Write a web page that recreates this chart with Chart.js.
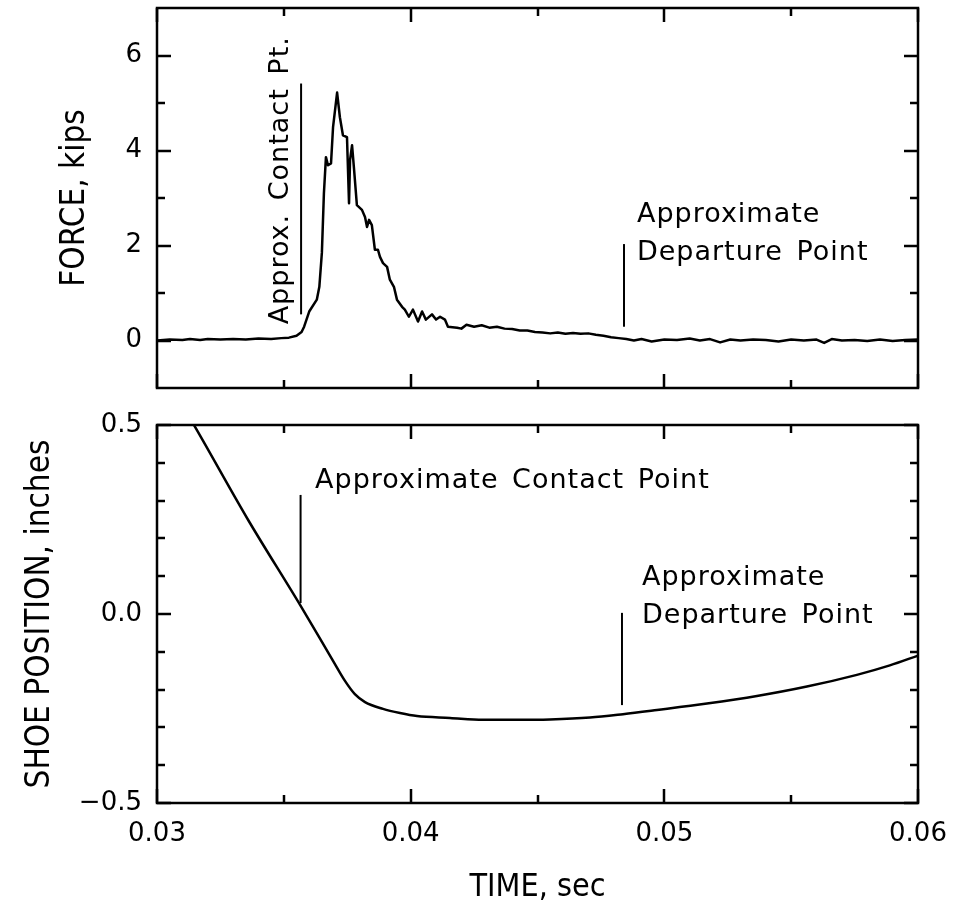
<!DOCTYPE html>
<html>
<head>
<meta charset="utf-8">
<title>Force and shoe position vs time</title>
<script src="https://cdn.jsdelivr.net/npm/chart.js@4.4.1/dist/chart.umd.min.js"></script>
<style>
  html, body { margin: 0; padding: 0; background: #fff; }
  #wrap { position: relative; width: 960px; height: 911px; }
  #forceChart { position: absolute; left: 0; top: 0; }
  #shoeChart { position: absolute; left: 0; top: 400px; }
</style>
</head>
<body>
<div id="wrap">
  <canvas id="forceChart" width="960" height="400"></canvas>
  <canvas id="shoeChart" width="960" height="511"></canvas>
</div>
<script>
// Time axis (sec)
const timeTicks = [0.03, 0.04, 0.05, 0.06];
const timeMinor = [0.035, 0.045, 0.055];

// Force record (kips)
const forceTime = [
  0.0300, 0.0305, 0.0310, 0.0313, 0.0317, 0.0320, 0.0325, 0.0330, 0.0335, 0.0340,
  0.0345, 0.0349, 0.0352, 0.0355, 0.0357, 0.0358, 0.0360, 0.0363, 0.0364, 0.0365,
  0.03658, 0.03666, 0.03674, 0.03686, 0.03694, 0.03710, 0.03721, 0.03733, 0.03749, 0.03757,
  0.03761, 0.03769, 0.03777, 0.03788, 0.03808, 0.03820, 0.03828, 0.03836, 0.03847, 0.03859,
  0.03871, 0.03879, 0.03891, 0.03907, 0.03918, 0.03934, 0.03946, 0.03966, 0.03977, 0.03993,
  0.04009, 0.04029, 0.04045, 0.04060, 0.04084, 0.04100, 0.04116, 0.04135, 0.04147, 0.04183,
  0.0420, 0.0422, 0.0425, 0.0428, 0.0431, 0.0434, 0.0437, 0.0440, 0.0443, 0.0446,
  0.0449, 0.0452, 0.0455, 0.0458, 0.0461, 0.0464, 0.0467, 0.0470, 0.0473, 0.0476,
  0.0479, 0.0482, 0.0485, 0.0488, 0.0491, 0.0495, 0.0500, 0.0505, 0.0510, 0.0514,
  0.0518, 0.0522, 0.0526, 0.0530, 0.0535, 0.0540, 0.0545, 0.0550, 0.0555, 0.0560,
  0.0563, 0.0566, 0.0570, 0.0575, 0.0580, 0.0585, 0.0590, 0.0595, 0.0600
];
const forceKips = [
  0.00, 0.02, 0.01, 0.03, 0.01, 0.03, 0.02, 0.03, 0.02, 0.04,
  0.03, 0.05, 0.06, 0.10, 0.18, 0.29, 0.61, 0.86, 1.13, 1.85,
  3.10, 3.86, 3.69, 3.73, 4.49, 5.22, 4.70, 4.32, 4.28, 2.89,
  3.80, 4.11, 3.59, 2.85, 2.75, 2.60, 2.39, 2.54, 2.43, 1.91,
  1.91, 1.76, 1.63, 1.55, 1.28, 1.13, 0.86, 0.71, 0.65, 0.50,
  0.65, 0.40, 0.61, 0.44, 0.55, 0.44, 0.50, 0.44, 0.29, 0.27,
  0.25, 0.33, 0.29, 0.32, 0.27, 0.29, 0.25, 0.24, 0.21, 0.21,
  0.18, 0.17, 0.15, 0.17, 0.14, 0.16, 0.14, 0.15, 0.12, 0.10,
  0.07, 0.05, 0.03, 0.00, 0.03, -0.02, 0.02, 0.01, 0.04, 0.00,
  0.03, -0.04, 0.02, 0.00, 0.02, 0.01, -0.02, 0.02, 0.00, 0.02,
  -0.05, 0.03, 0.00, 0.01, -0.01, 0.02, -0.01, 0.01, 0.02
];
const forceTicks = [0, 2, 4, 6];
const forceMinor = [1, 3, 5];

// Shoe position (inches)
const shoeTime = [
  0.0300, 0.0315, 0.0336, 0.03564, 0.03694, 0.03741, 0.03780, 0.03820, 0.03891, 0.03958,
  0.04025, 0.04155, 0.04285, 0.04419, 0.04549, 0.04707, 0.04837, 0.04971, 0.05168, 0.05365,
  0.05562, 0.05759, 0.05889, 0.0600
];
const shoeInches = [
  0.665, 0.495, 0.248, 0.024, -0.124, -0.177, -0.212, -0.233, -0.251, -0.262,
  -0.270, -0.275, -0.280, -0.280, -0.279, -0.274, -0.265, -0.254, -0.237, -0.217,
  -0.192, -0.161, -0.136, -0.110
];
const shoeTicks = [-0.5, 0.0, 0.5];
const shoeMinor = [-0.4, -0.3, -0.2, -0.1, 0.1, 0.2, 0.3, 0.4];

// Marker lines: [time, from, to]
const forceContact = [0.03568, 0.55, 5.41];
const forceDeparture = [0.04841, 0.29, 2.03];
const shoeContact = [0.03566, 0.029, 0.315];
const shoeDeparture = [0.04833, -0.241, 0.003];

// Notes: [text, time, value, vertical]
const forceNotes = [
  ['Approx. Contact Pt.', 0.03516, 0.34, true],
  ['Approximate', 0.04892, 2.50, false],
  ['Departure Point', 0.04892, 1.70, false]
];
const shoeNotes = [
  ['Approximate Contact Point', 0.03623, 0.333, false],
  ['Approximate', 0.04912, 0.077, false],
  ['Departure Point', 0.04912, -0.024, false]
];

const FONT = '"DejaVu Sans", "Liberation Sans", sans-serif';
const TITLE_FONT = '"DejaVu Sans Condensed", "Liberation Sans Narrow", "DejaVu Sans", sans-serif';

const toPoints = (xs, ys) => xs.map((t, i) => ({ x: t, y: ys[i] }));
const markerLine = m => [{ x: m[0], y: m[1] }, { x: m[0], y: m[2] }];

// Box around the plot area with inward ticks on all four sides
const frameTicks = {
  id: 'frameTicks',
  afterDraw(chart, args, opts) {
    const { ctx, chartArea: a, scales: { x, y } } = chart;
    ctx.save();
    ctx.strokeStyle = '#000';
    ctx.lineWidth = 2.5;
    ctx.lineCap = 'butt';
    ctx.strokeRect(a.left, a.top, a.right - a.left, a.bottom - a.top);
    ctx.beginPath();
    const xTicks = (vals, len) => vals.forEach(v => {
      const px = Math.round(x.getPixelForValue(v));
      ctx.moveTo(px, a.bottom); ctx.lineTo(px, a.bottom - len);
      ctx.moveTo(px, a.top); ctx.lineTo(px, a.top + len);
    });
    const yTicks = (vals, len) => vals.forEach(v => {
      const py = Math.round(y.getPixelForValue(v));
      ctx.moveTo(a.left, py); ctx.lineTo(a.left + len, py);
      ctx.moveTo(a.right, py); ctx.lineTo(a.right - len, py);
    });
    xTicks(opts.xMajor, 14);
    xTicks(opts.xMinor, 8);
    yTicks(opts.yMajor, 14);
    yTicks(opts.yMinor, 8);
    ctx.stroke();
    ctx.restore();
  }
};

// Text notes placed at data coordinates
const noteLabels = {
  id: 'noteLabels',
  afterDatasetsDraw(chart, args, opts) {
    const { ctx, scales: { x, y } } = chart;
    ctx.save();
    ctx.fillStyle = '#000';
    ctx.font = '27px ' + FONT;
    ctx.letterSpacing = '1px';
    ctx.wordSpacing = '4px';
    ctx.textBaseline = 'alphabetic';
    ctx.textAlign = 'left';
    opts.notes.forEach(([text, t, v, vertical]) => {
      ctx.save();
      ctx.translate(x.getPixelForValue(t), y.getPixelForValue(v));
      if (vertical) ctx.rotate(-Math.PI / 2);
      ctx.fillText(text, 0, 0);
      ctx.restore();
    });
    ctx.restore();
  }
};

const lineStyle = { borderColor: '#000', borderWidth: 2.5, pointRadius: 0, borderJoinStyle: 'round', fill: false };

function makeChart(id, cfg) {
  return new Chart(document.getElementById(id), {
    type: 'line',
    data: {
      datasets: [
        Object.assign({ data: cfg.curve, tension: 0 }, lineStyle, cfg.curveStyle || {}),
        Object.assign({ data: cfg.contact }, lineStyle, { borderWidth: 2 }),
        Object.assign({ data: cfg.departure }, lineStyle, { borderWidth: 2 })
      ]
    },
    options: {
      responsive: false,
      animation: false,
      layout: { padding: cfg.padding },
      plugins: {
        legend: { display: false },
        tooltip: { enabled: false },
        frameTicks: { xMajor: timeTicks, xMinor: timeMinor, yMajor: cfg.yMajor, yMinor: cfg.yMinor },
        noteLabels: { notes: cfg.notes }
      },
      scales: {
        x: {
          type: 'linear',
          min: 0.03,
          max: 0.06,
          grid: { display: false, drawTicks: false },
          border: { display: false },
          afterBuildTicks: s => { s.ticks = timeTicks.map(v => ({ value: v })); },
          afterFit: s => { s.height = cfg.xHeight; s.paddingLeft = 0; s.paddingRight = 0; },
          ticks: {
            display: cfg.showTime,
            color: '#000',
            padding: 16,
            maxRotation: 0,
            font: { family: FONT, size: 26 },
            callback: v => v.toFixed(2)
          },
          title: {
            display: cfg.showTime,
            text: 'TIME, sec',
            color: '#000',
            padding: { top: 0, bottom: 4 },
            font: { family: TITLE_FONT, size: 32 }
          }
        },
        y: {
          min: cfg.yMin,
          max: cfg.yMax,
          grid: { display: false, drawTicks: false },
          border: { display: false },
          afterBuildTicks: s => { s.ticks = cfg.yMajor.map(v => ({ value: v })); },
          afterFit: s => { s.width = 157; s.paddingTop = 0; s.paddingBottom = 0; },
          ticks: {
            color: '#000',
            padding: 15,
            font: { family: FONT, size: 26 },
            callback: cfg.yFormat
          },
          title: {
            display: true,
            text: cfg.yTitle,
            color: '#000',
            padding: { top: cfg.yTitlePad, bottom: 0 },
            font: { family: TITLE_FONT, size: 33 }
          }
        }
      }
    },
    plugins: [frameTicks, noteLabels]
  });
}

// Upper panel: force
makeChart('forceChart', {
  curve: toPoints(forceTime, forceKips),
  contact: markerLine(forceContact),
  departure: markerLine(forceDeparture),
  notes: forceNotes,
  yMin: -1, yMax: 7,
  yMajor: forceTicks, yMinor: forceMinor,
  yFormat: v => String(v),
  yTitle: 'FORCE, kips',
  yTitlePad: 56,
  padding: { left: 0, right: 42, top: 8, bottom: 0 },
  xHeight: 12,
  showTime: false
});

// Lower panel: shoe position
makeChart('shoeChart', {
  curve: toPoints(shoeTime, shoeInches),
  curveStyle: { cubicInterpolationMode: 'monotone' },
  contact: markerLine(shoeContact),
  departure: markerLine(shoeDeparture),
  notes: shoeNotes,
  yMin: -0.5, yMax: 0.5,
  yMajor: shoeTicks, yMinor: shoeMinor,
  yFormat: v => (v < 0 ? '\u2212' : '') + Math.abs(v).toFixed(1),
  yTitle: 'SHOE POSITION, inches',
  yTitlePad: 21,
  padding: { left: 0, right: 42, top: 25, bottom: 0 },
  xHeight: 108,
  showTime: true
});
</script>
</body>
</html>
